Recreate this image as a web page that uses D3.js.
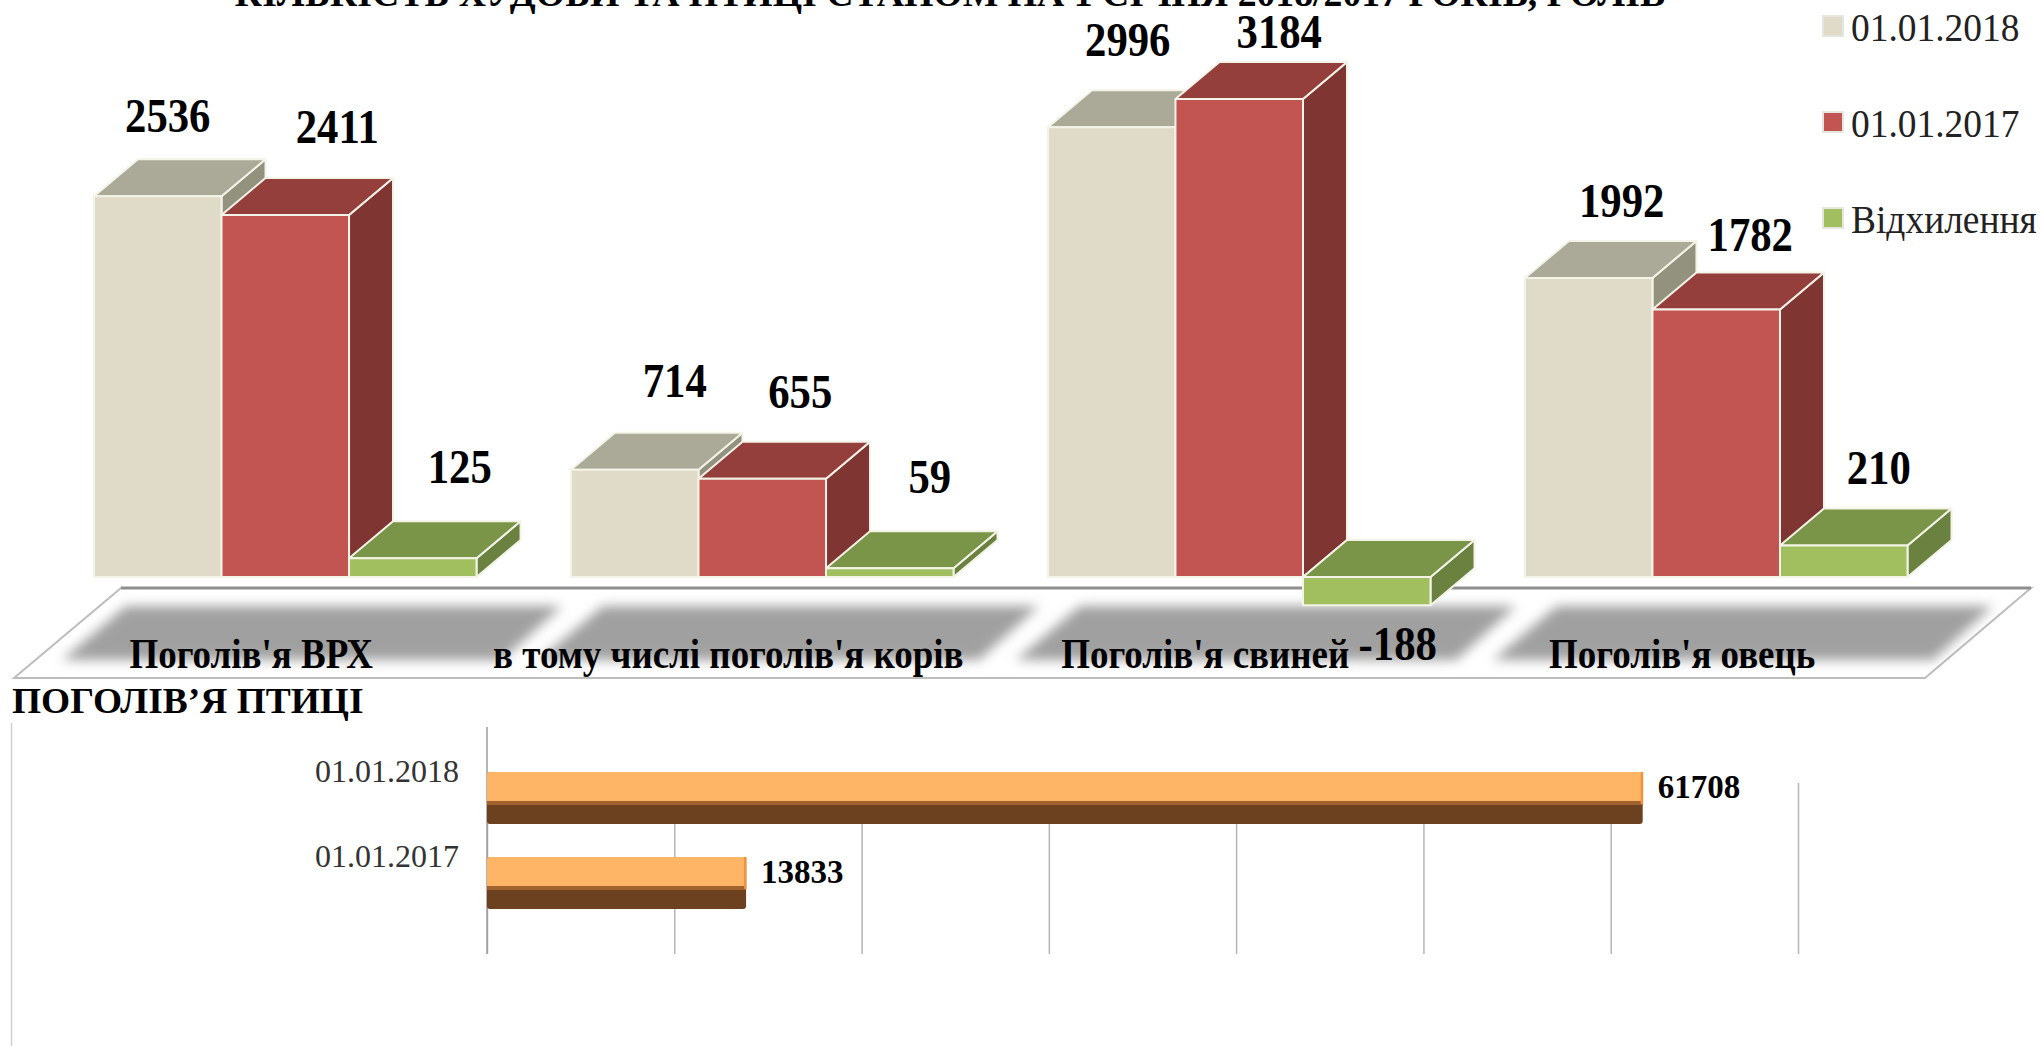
<!DOCTYPE html>
<html>
<head>
<meta charset="utf-8">
<script src="https://cdn.jsdelivr.net/npm/d3@7"></script>
<style>
	html, body { margin: 0; padding: 0; background: #fff; overflow: hidden; }
	svg { display: block; }
	text { font-family: "Liberation Serif", serif; fill: #000; }
</style>
</head>
<body>
<div id="chart"></div>
<script>
// Data
const categories = ["Поголів'я ВРХ", "в тому числі поголів'я корів", "Поголів'я свиней", "Поголів'я овець"];
const seriesNames = ["01.01.2018", "01.01.2017", "Відхилення"];
const values2018 = [2536, 714, 2996, 1992];
const values2017 = [2411, 655, 3184, 1782];
const deviation = [125, 59, -188, 210];

const birdDates = ["01.01.2018", "01.01.2017"];
const birdValues = [61708, 13833];
const birdTicks = [0, 10000, 20000, 30000, 40000, 50000, 60000, 70000];

const mainTitle = "КІЛЬКІСТЬ ХУДОБИ ТА ПТИЦІ СТАНОМ НА 1 СІЧНЯ 2018/2017 РОКІВ, ГОЛІВ";
const birdTitle = "ПОГОЛІВ’Я ПТИЦІ";

// Face colours per series
const frontColors = ["#E0DBC8", "#C25552", "#A1BF5F"];
const topColors = ["#ABAA99", "#953F3D", "#7A9448"];
const sideColors = ["#93927F", "#7F3633", "#6A813F"];

// Hand placed value labels in the source, offset from the middle of each bar front
const labelShift = [
	[[10, -64], [52, -72], [47, -75]],
	[[40, -73], [38, -71], [40, -75]],
	[[16, -71], [40, -51], [31, 83]],
	[[33, -61], [34, -58], [35, -61]]
];

const svg = d3.select("#chart").append("svg")
	.attr("width", 2042)
	.attr("height", 1046);

// Text in the picture is squeezed sideways, so scale it instead of using x
function addText(parent, str, x, y, size, sx, weight, anchor) {
	return parent.append("text")
		.attr("transform", "translate(" + x + "," + y + ") scale(" + sx + ",1)")
		.attr("font-size", size)
		.attr("font-weight", weight)
		.attr("text-anchor", anchor)
		.text(str);
}

addText(svg, mainTitle, 950, 6, 37, 1.02, "bold", "middle");

////////////////////
// 3D COLUMN CHART

const depthX = 44, depthY = 37;

const x0 = d3.scaleBand()
	.domain(categories)
	.range([94, 1907.5])
	.paddingInner(0.198);
const x1 = d3.scaleBand()
	.domain(seriesNames)
	.range([0, x0.bandwidth()]);
const y = d3.scaleLinear()
	.domain([0, 3184])
	.range([577, 99]);

// Floor under the columns
const defs = svg.append("defs");
defs.append("filter").attr("id", "soft")
	.attr("x", "-10%").attr("y", "-30%").attr("width", "120%").attr("height", "160%")
	.append("feGaussianBlur").attr("stdDeviation", 6);

const floor = svg.append("g");
floor.append("path")
	.attr("d", "M121,588 L2031,588 L1925,678 L14,678 Z")
	.attr("fill", "#fff")
	.attr("stroke", "#bdbdbd")
	.attr("stroke-width", 2);
floor.append("line")
	.attr("x1", 121).attr("x2", 2031).attr("y1", 588).attr("y2", 588)
	.attr("stroke", "#8e8e8e")
	.attr("stroke-width", 3);

floor.selectAll("path.plate")
	.data(categories)
	.enter()
	.append("path")
	.attr("class", "plate")
	.attr("fill", "#a0a0a0")
	.attr("filter", "url(#soft)")
	.attr("d", d => {
		const left = x0(d) - 32;
		return "M" + (left + 64) + ",606 L" + (left + 500) + ",606 L" + (left + 440) + ",660 L" + left + ",660 Z";
	});

const allValues = [values2018, values2017, deviation];

categories.forEach((cat, c) => {
	const group = svg.append("g").attr("transform", "translate(" + x0(cat) + ",0)");

	// Later series sit in front of the earlier one
	seriesNames.forEach((name, s) => {
		const v = allValues[s][c];
		const left = x1(name);
		const right = left + x1.bandwidth();
		const top = y(Math.max(v, 0));
		const bottom = y(Math.min(v, 0));
		const bar = group.append("g")
			.attr("stroke", "#f4f3e8")
			.attr("stroke-width", 2)
			.attr("stroke-linejoin", "round");

		bar.append("path")
			.attr("fill", sideColors[s])
			.attr("d", "M" + right + "," + top + " L" + (right + depthX) + "," + (top - depthY) +
				" L" + (right + depthX) + "," + (bottom - depthY) + " L" + right + "," + bottom + " Z");
		bar.append("path")
			.attr("fill", topColors[s])
			.attr("d", "M" + left + "," + top + " L" + (left + depthX) + "," + (top - depthY) +
				" L" + (right + depthX) + "," + (top - depthY) + " L" + right + "," + top + " Z");
		bar.append("rect")
			.attr("x", left)
			.attr("y", top)
			.attr("width", x1.bandwidth())
			.attr("height", bottom - top)
			.attr("fill", frontColors[s]);
	});
});

// Value labels go on top of every column
categories.forEach((cat, c) => {
	seriesNames.forEach((name, s) => {
		const v = allValues[s][c];
		const cx = x0(cat) + x1(name) + x1.bandwidth() / 2;
		const shift = labelShift[c][s];
		addText(svg, v, cx + shift[0], y(Math.max(v, 0)) + shift[1], 48, 0.89, "bold", "middle");
	});
	addText(svg, cat, x0(cat) + x0.bandwidth() / 2 - 34, 668, 42, 0.88, "bold", "middle");
});

// Legend
const legendY = d3.scalePoint()
	.domain(seriesNames)
	.range([41, 233]);

seriesNames.forEach((name, s) => {
	svg.append("rect")
		.attr("x", 1823)
		.attr("y", legendY(name) - 25)
		.attr("width", 20)
		.attr("height", 20)
		.attr("fill", frontColors[s])
		.attr("stroke", "#e6e6e0")
		.attr("stroke-width", 2);
	addText(svg, name, 1851, legendY(name), 39, 0.96, "normal", "start").style("fill", "#222");
});

////////////////////
// BIRD BAR CHART

addText(svg, birdTitle, 12, 713, 36, 1.04, "bold", "start");

// Frame edge left over from the source picture
svg.append("line")
	.attr("x1", 11.5).attr("x2", 11.5).attr("y1", 723).attr("y2", 1046)
	.attr("stroke", "#cfcfcf")
	.attr("stroke-width", 1.5);

const xBird = d3.scaleLinear()
	.domain([0, 70000])
	.range([487, 1798]);
const yBird = d3.scaleBand()
	.domain(birdDates)
	.range([772, 909])
	.paddingInner(0.388);

const gridAxis = svg.append("g")
	.attr("transform", "translate(0,954)")
	.call(d3.axisBottom(xBird).tickValues(birdTicks).tickSize(-171).tickFormat(""));
gridAxis.select(".domain").remove();
gridAxis.selectAll("line").attr("stroke", "#b5b5b5").attr("stroke-width", 1.5);

// Zero line reaches higher than the grid
svg.append("line")
	.attr("x1", xBird(0)).attr("x2", xBird(0)).attr("y1", 727).attr("y2", 954)
	.attr("stroke", "#9c9c9c")
	.attr("stroke-width", 1.5);

const dateAxis = svg.append("g")
	.attr("transform", "translate(" + xBird(0) + ",0)")
	.call(d3.axisLeft(yBird).tickSize(0).tickPadding(28));
dateAxis.select(".domain").remove();
dateAxis.selectAll("text")
	.attr("font-size", 32)
	.attr("font-family", "Liberation Serif")
	.attr("dy", -16)
	.style("fill", "#333");

birdDates.forEach((d, i) => {
	const w = xBird(birdValues[i]) - xBird(0);
	const h = yBird.bandwidth();
	const split = h * 0.615;
	const row = svg.append("g").attr("transform", "translate(" + xBird(0) + "," + yBird(d) + ")");

	row.append("rect").attr("width", w).attr("height", h).attr("rx", 3).attr("fill", "#6B4120");
	row.append("rect").attr("width", w).attr("height", split).attr("rx", 2).attr("fill", "#FFB566");
	row.append("rect").attr("y", split - 3).attr("width", w).attr("height", 4).attr("fill", "#A0622F");
	row.append("rect").attr("x", w - 2).attr("width", 2.5).attr("height", split).attr("fill", "#F0913F");

	addText(svg, birdValues[i], xBird(birdValues[i]) + 15, yBird(d) + 26, 33, 1, "bold", "start");
});
</script>
</body>
</html>
